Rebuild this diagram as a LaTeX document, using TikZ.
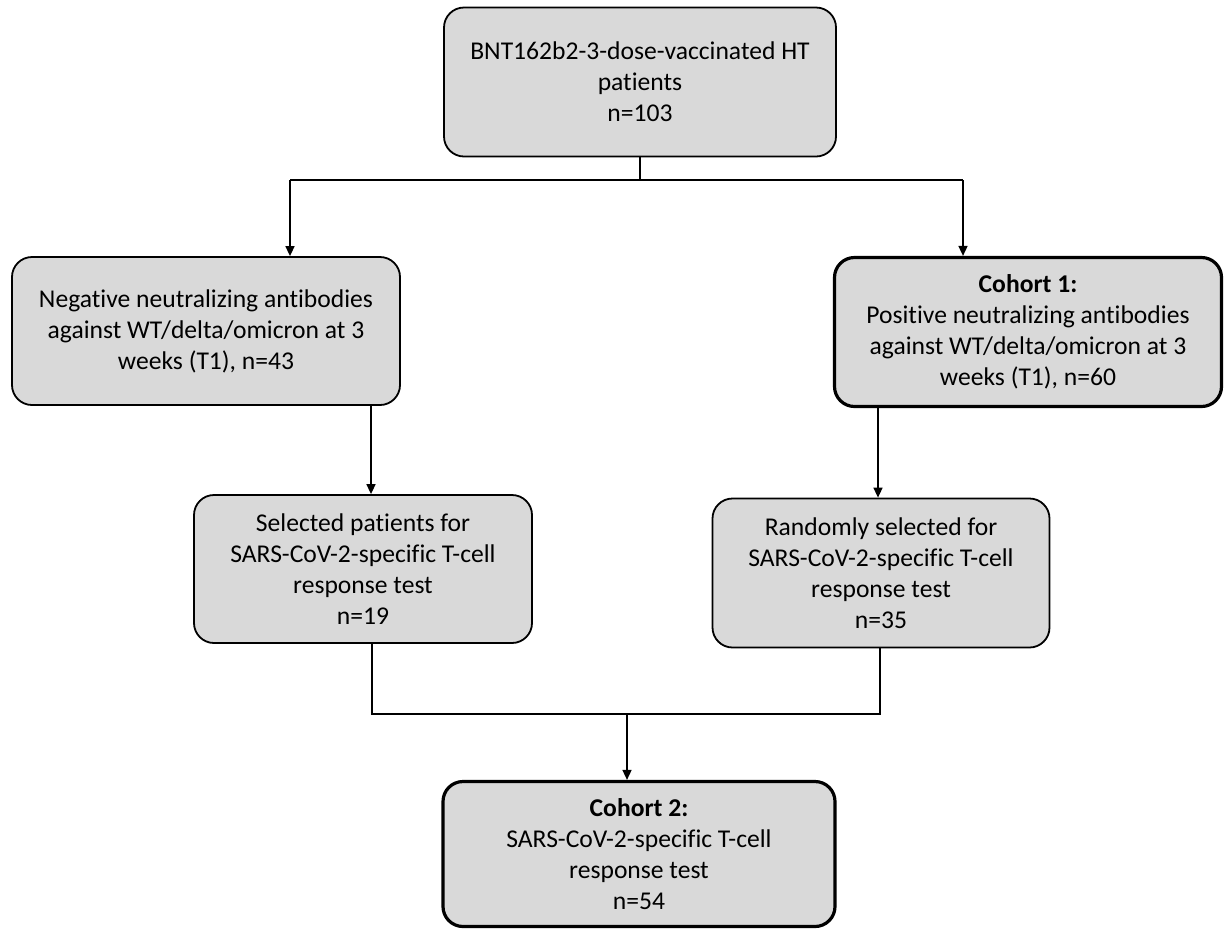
\documentclass[tikz,border=0pt]{standalone}
\usepackage{fontspec}
\setmainfont{Carlito}[Ligatures=NoCommon]
\usetikzlibrary{arrows.meta}
\definecolor{boxgray}{RGB}{217,217,217}
\tikzset{
  flowbox/.style={draw, fill=boxgray, rounded corners=10pt, line width=0.9pt,
    align=center, inner sep=0pt, font=\fontsize{12.8}{15.5}\selectfont},
  keybox/.style={flowbox, line width=1.6pt},
  flowline/.style={line width=0.8pt},
  flowarrow/.style={flowline, -{Triangle[length=5pt,width=4.5pt]}},
}
\begin{document}
\begin{tikzpicture}[x=0.5pt,y=-0.5pt]
  \useasboundingbox (0,0) rectangle (1225,928);
  % boxes
  \node[flowbox, minimum width=196pt, minimum height=74.5pt] (top) at (640,82)
    {BNT162b2-3-dose-vaccinated HT\\patients\\n=103};
  \node[flowbox, minimum width=194pt, minimum height=74pt] (neg) at (206,331)
    {Negative neutralizing antibodies\\against WT/delta/omicron at 3\\weeks (T1), n=43};
  \node[keybox, minimum width=193.5pt, minimum height=74.5pt] (pos) at (1028,332)
    {\textbf{Cohort 1:}\\Positive neutralizing antibodies\\against WT/delta/omicron at 3\\weeks (T1), n=60};
  \node[flowbox, minimum width=169pt, minimum height=74pt] (sel) at (363,569)
    {Selected patients for\\SARS-CoV-2-specific T-cell\\response test\\n=19};
  \node[flowbox, minimum width=168.5pt, minimum height=74.5pt] (rnd) at (881,573)
    {Randomly selected for\\SARS-CoV-2-specific T-cell\\response test\\n=35};
  \node[keybox, minimum width=196pt, minimum height=72.5pt] (coh) at (639,854)
    {\textbf{Cohort 2:}\\SARS-CoV-2-specific T-cell\\response test\\n=54};
  % split
  \coordinate (splitL) at (290,180);
  \coordinate (splitR) at (963,180);
  \draw[flowline] (top.south) -- (top.south |- splitL);
  \draw[flowline] (splitL) -- (splitR);
  \draw[flowarrow] (splitL) -- (splitL |- neg.north);
  \draw[flowarrow] (splitR) -- (splitR |- pos.north);
  % down
  \coordinate (negout) at (371,405);
  \coordinate (posout) at (878,407);
  \draw[flowarrow] (negout) -- (negout |- sel.north);
  \draw[flowarrow] (posout) -- (posout |- rnd.north);
  % join
  \coordinate (joinL) at (372,714);
  \coordinate (joinR) at (880,714);
  \coordinate (joinM) at (627,714);
  \draw[flowline] (sel.south -| joinL) -- (joinL) -- (joinR) -- (rnd.south -| joinR);
  \draw[flowarrow] (joinM) -- (joinM |- coh.north);
\end{tikzpicture}
\end{document}
